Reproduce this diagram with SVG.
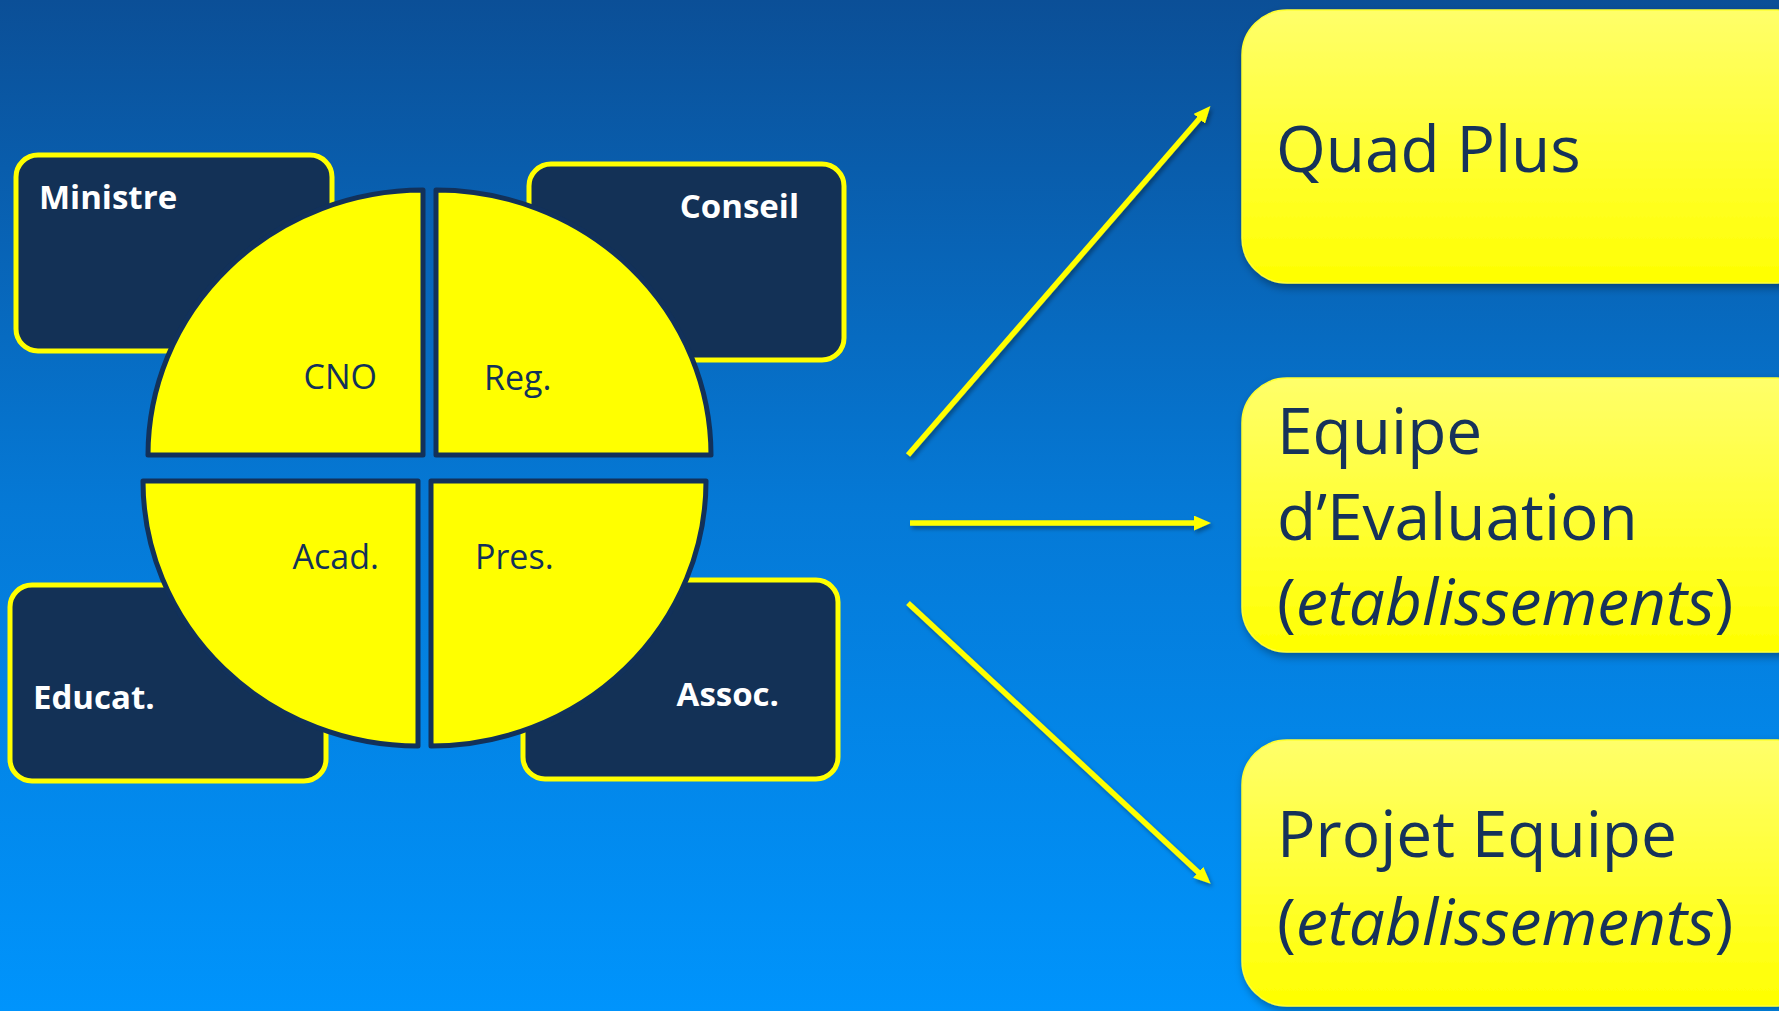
<svg xmlns="http://www.w3.org/2000/svg" width="1779" height="1011" viewBox="0 0 1779 1011">
<defs>
<linearGradient id="bg" x1="0" y1="0" x2="0" y2="1">
<stop offset="0" stop-color="#0b4f97"/>
<stop offset="0.5" stop-color="#0579d6"/>
<stop offset="1" stop-color="#0094fc"/>
</linearGradient>
<linearGradient id="yb" x1="0" y1="0" x2="0" y2="1">
<stop offset="0" stop-color="#ffff6a"/>
<stop offset="1" stop-color="#ffff00"/>
</linearGradient>
<filter id="sh" x="-10%" y="-10%" width="130%" height="130%">
<feDropShadow dx="2" dy="4" stdDeviation="4" flood-color="#000" flood-opacity="0.35"/>
</filter>
<filter id="ash" x="-10%" y="-10%" width="130%" height="130%">
<feDropShadow dx="2" dy="3" stdDeviation="2" flood-color="#000" flood-opacity="0.35"/>
</filter>
<marker id="ah" viewBox="0 0 16 14" refX="1" refY="7" markerWidth="17" markerHeight="15" markerUnits="userSpaceOnUse" orient="auto">
<path d="M0,0 L16,7 L0,14 Z" fill="#ffff00"/>
</marker>
</defs>
<style>
.dbox{fill:#133156;stroke:#ffff00;stroke-width:5}
.dlab{font-family:"Open Sans","Liberation Sans",sans-serif;font-weight:bold;font-size:33px;fill:#ffffff}
.quad{fill:#ffff00;stroke:#12315a;stroke-width:5;stroke-linejoin:round}
.qlab{font-family:"Open Sans","Liberation Sans",sans-serif;font-size:34px;fill:#12315a}
.ybox{fill:url(#yb);stroke:#ffff33;stroke-width:1.5}
.ylab{font-family:"Open Sans","Liberation Sans",sans-serif;font-size:64px;fill:#12315a}
.conn{stroke:#ffff00;stroke-width:5.5;fill:none;marker-end:url(#ah)}
</style>
<rect x="0" y="0" width="1779" height="1011" fill="url(#bg)"/>

<g id="ministre">
<rect class="dbox" x="16" y="155" width="316" height="196" rx="22"/>
<text class="dlab" x="39" y="209">Ministre</text>
</g>
<g id="conseil">
<rect class="dbox" x="529" y="164" width="315" height="196" rx="22"/>
<text class="dlab" x="799" y="218" text-anchor="end">Conseil</text>
</g>
<g id="educat">
<rect class="dbox" x="10" y="585" width="316" height="196" rx="22"/>
<text class="dlab" x="33" y="709">Educat.</text>
</g>
<g id="assoc">
<rect class="dbox" x="523" y="580" width="315" height="199" rx="22"/>
<text class="dlab" x="779" y="706" text-anchor="end">Assoc.</text>
</g>

<g id="cno">
<path class="quad" d="M423 455 L148 455 A275 265 0 0 1 423 190 Z"/>
<text class="qlab" x="377" y="389" text-anchor="end">CNO</text>
</g>
<g id="reg">
<path class="quad" d="M436 455 L436 190 A275 265 0 0 1 711 455 Z"/>
<text class="qlab" x="484" y="390">Reg.</text>
</g>
<g id="acad">
<path class="quad" d="M418 481 L143 481 A275 265 0 0 0 418 746 Z"/>
<text class="qlab" x="379" y="569" text-anchor="end">Acad.</text>
</g>
<g id="pres">
<path class="quad" d="M431 481 L706 481 A275 265 0 0 1 431 746 Z"/>
<text class="qlab" x="475" y="569">Pres.</text>
</g>

<g id="quadplus" filter="url(#sh)">
<rect class="ybox" x="1242" y="10" width="580" height="273" rx="45"/>
<text class="ylab" x="1276" y="172">Quad Plus</text>
</g>
<g id="equipe-evaluation" filter="url(#sh)">
<rect class="ybox" x="1242" y="378" width="580" height="274" rx="45"/>
<text class="ylab" x="1277" y="454">Equipe</text>
<text class="ylab" x="1277" y="540">d’Evaluation</text>
<text class="ylab" x="1277" y="625">(<tspan font-style="italic">etablissements</tspan>)</text>
</g>
<g id="projet-equipe" filter="url(#sh)">
<rect class="ybox" x="1242" y="740" width="580" height="266" rx="45"/>
<text class="ylab" x="1277" y="857">Projet Equipe</text>
<text class="ylab" x="1277" y="945">(<tspan font-style="italic">etablissements</tspan>)</text>
</g>

<g id="connectors" filter="url(#ash)">
<line class="conn" x1="908" y1="455" x2="1200" y2="118"/>
<line class="conn" x1="910" y1="523" x2="1195" y2="523"/>
<line class="conn" x1="908" y1="603" x2="1199" y2="873"/>
</g>
</svg>
